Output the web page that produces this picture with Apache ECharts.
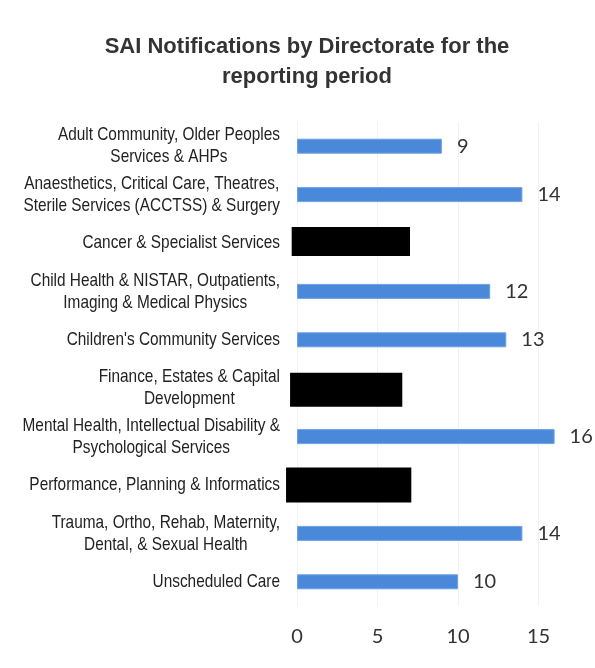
<!DOCTYPE html>
<html>
<head>
<meta charset="utf-8">
<script src="https://cdn.jsdelivr.net/npm/echarts@6/dist/echarts.min.js"></script>
<style>
  html, body { margin: 0; padding: 0; background: #fff; }
  #chart { width: 595px; height: 668px; }
</style>
</head>
<body>
<div id="chart"></div>
<script>
// Directorates, top to bottom
const directorates = [
  'Adult Community, Older Peoples\nServices & AHPs',
  'Anaesthetics, Critical Care, Theatres,\nSterile Services (ACCTSS) & Surgery',
  'Cancer & Specialist Services',
  'Child Health & NISTAR, Outpatients,\nImaging & Medical Physics',
  "Children's Community Services",
  'Finance, Estates & Capital\nDevelopment',
  'Mental Health, Intellectual Disability &\nPsychological Services',
  'Performance, Planning & Informatics',
  'Trauma, Ortho, Rehab, Maternity,\nDental, & Sexual Health',
  'Unscheduled Care'
];

// SAI notification counts (null = withheld)
const notifications = [9, 14, null, 12, 13, null, 16, null, 14, 10];

// Withheld rows: [row index, from, to]
const redactedRows = [
  [2, -0.33, 7.02],
  [5, -0.43, 6.54],
  [7, -0.68, 7.10]
];
const redactionHeights = [29, 34, 35];
const redactionShift = [-1.5, 1.5, 0];

const LABEL_FONT = '"Liberation Sans", Arial, sans-serif';
const NUM_FONT = 'Lato, "Open Sans", sans-serif';
const LABEL_SIZE = 19;
const LABEL_SCALE = 0.81;

const chart = echarts.init(document.getElementById('chart'), null, { renderer: 'canvas' });

chart.setOption({
  animation: false,
  backgroundColor: '#fff',
  title: {
    text: 'SAI Notifications by Directorate for the\nreporting period',
    left: 302,
    top: 27,
    textAlign: 'center',
    textStyle: {
      fontFamily: LABEL_FONT,
      fontWeight: 'bold',
      fontSize: 22,
      lineHeight: 30,
      color: '#333'
    }
  },
  grid: {
    left: 297,
    top: 122,
    width: 16.1 * 20,
    height: 484,
    outerBoundsMode: 'none',
    containLabel: false
  },
  xAxis: {
    type: 'value',
    min: 0,
    max: 20,
    interval: 5,
    axisLine: { show: false },
    axisTick: { show: false },
    splitLine: { show: true, lineStyle: { color: '#f1f1f1', width: 1 } },
    axisLabel: {
      margin: 21,
      color: '#333',
      fontFamily: NUM_FONT,
      fontSize: 20
    }
  },
  yAxis: {
    type: 'category',
    data: directorates,
    inverse: true,
    axisLine: { show: false },
    axisTick: { show: false },
    axisLabel: { show: false }
  },
  series: [
    {
      type: 'bar',
      data: notifications,
      barWidth: 15,
      itemStyle: { color: '#4a89da', borderColor: '#6fa2e3', borderWidth: 1 },
      label: {
        show: true,
        position: 'right',
        distance: 15,
        color: '#333',
        fontFamily: NUM_FONT,
        fontSize: 20
      }
    },
    {
      type: 'custom',
      clip: false,
      data: redactedRows,
      renderItem: function (params, api) {
        const row = api.value(0);
        const p0 = api.coord([api.value(1), row]);
        const p1 = api.coord([api.value(2), row]);
        const h = redactionHeights[params.dataIndex];
        const cy = p0[1] + redactionShift[params.dataIndex];
        return {
          type: 'rect',
          shape: { x: p0[0], y: cy - h / 2, width: p1[0] - p0[0], height: h },
          style: { fill: '#000' }
        };
      },
      encode: { x: [1, 2], y: 0 }
    }
  ]
});

// Category labels: condensed, block right-aligned beside the axis, lines centred
const labelRight = 280;
const measureCtx = document.createElement('canvas').getContext('2d');
measureCtx.font = LABEL_SIZE + 'px ' + LABEL_FONT;
chart.setOption({
  graphic: directorates.map((name, i) => {
    const y = chart.convertToPixel({ yAxisIndex: 0 }, i);
    const widest = Math.max.apply(null, name.split('\n').map(l => measureCtx.measureText(l).width));
    const cx = labelRight - widest * LABEL_SCALE / 2;
    return {
      type: 'text',
      x: cx,
      y: y,
      scaleX: LABEL_SCALE,
      style: {
        text: name,
        fill: '#222',
        font: LABEL_SIZE + 'px ' + LABEL_FONT,
        lineHeight: 22,
        align: 'center',
        verticalAlign: 'middle'
      }
    };
  })
});
</script>
</body>
</html>
